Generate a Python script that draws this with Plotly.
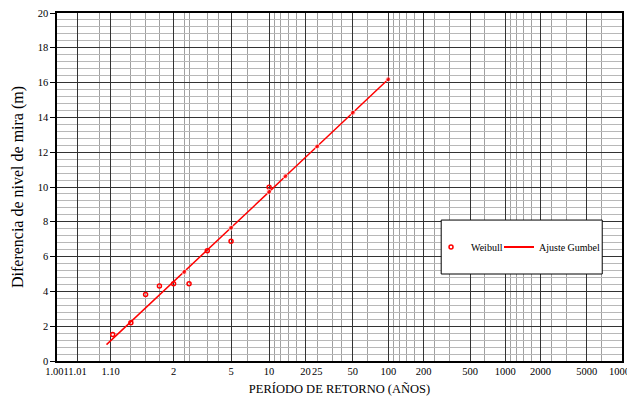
import numpy as np
import plotly.graph_objects as go

# ---- data ----
weibull_T = [1.111, 1.25, 1.4286, 1.6667, 2.0, 2.5, 3.333, 5.0, 10.0]
weibull_val = [1.53, 2.20, 3.82, 4.31, 4.44, 4.44, 6.34, 6.88, 9.98]

gumbel_T = [1.08, 2.33, 5.0, 10.0, 13.6, 25.0, 50.0, 100.0]
gumbel_val = [0.94, 5.12, 7.66, 9.72, 10.62, 12.33, 14.27, 16.19]

tick_T = [1.001, 1.01, 1.10, 2, 5, 10, 20, 25, 50, 100, 200, 500, 1000, 2000, 5000, 10000]
tick_text = ["1.001", "1.01", "1.10", "2", "5", "10", "20", "25", "50", "100",
             "200", "500", "1000", "2000", "5000", "10000"]

major_grid_T = [1.01, 1.1, 2, 5, 10, 20, 50, 100, 200, 500, 1000, 2000, 5000]
minor_grid_T = [1.0526, 1.25, 1.4286, 1.6667, 2.33, 2.5, 3.333, 4, 6.667,
                11.11, 12.5, 14.29, 16.67, 25, 33.33, 40, 66.67,
                111.1, 125, 142.9, 166.7, 250, 333.3, 666.7,
                1111, 1250, 1429, 1667, 2500, 3333, 6667]


def gumbel(T):
    T = np.asarray(T, dtype=float)
    return -np.log(-np.log(1.0 - 1.0 / T))


xr = [float(gumbel(1.001)), float(gumbel(10000))]
FONT = "Liberation Serif"
RED = "#ff0000"

fig = go.Figure()

fig.add_trace(go.Scatter(
    x=gumbel(weibull_T), y=weibull_val, mode="markers", name="Weibull",
    marker=dict(symbol="circle-open", size=4, color=RED, line=dict(width=1.5, color=RED)),
    xaxis="x", yaxis="y", legend="legend",
))
fig.add_trace(go.Scatter(
    x=gumbel(gumbel_T), y=gumbel_val, mode="lines+markers", name="Ajuste Gumbel",
    line=dict(color=RED, width=1.5),
    marker=dict(size=[0] + [5] * (len(gumbel_T) - 1), color=RED),
    showlegend=False, xaxis="x", yaxis="y",
))
fig.add_trace(go.Scatter(
    x=[None], y=[None], mode="lines", name="Ajuste Gumbel",
    line=dict(color=RED, width=2), xaxis="x2", yaxis="y", legend="legend2",
))

legend_common = dict(
    orientation="h", y=0.3276, xanchor="left", yanchor="middle",
    bgcolor="rgba(0,0,0,0)", borderwidth=0,
    font=dict(family=FONT, size=10, color="black"),
)

# the page body adds an 8px offset, so the figure is 8px smaller and margins shifted
fig.update_layout(
    width=627, height=393,
    margin=dict(l=49, r=13, t=5, b=40, autoexpand=False),
    paper_bgcolor="white", plot_bgcolor="white",
    font=dict(family=FONT, size=10, color="black"),
    xaxis=dict(
        range=xr, tickmode="array", tickvals=gumbel(tick_T), ticktext=tick_text,
        tickangle=0, showgrid=False, zeroline=False, ticks="", automargin=False,
        ticklabeloverflow="allow",
        showline=True, linecolor="black", linewidth=1.5, mirror=True,
        tickfont=dict(family=FONT, size=10.5),
        title=dict(text="PERÍODO DE RETORNO (AÑOS)", font=dict(family=FONT, size=12.5), standoff=8),
        minor=dict(tickmode="array", tickvals=gumbel(minor_grid_T), showgrid=True,
                   gridcolor="#a0a0a0", gridwidth=1, ticks=""),
    ),
    xaxis2=dict(
        range=xr, overlaying="x", anchor="y", side="bottom", automargin=False,
        tickmode="array", tickvals=gumbel(major_grid_T), showticklabels=False,
        showgrid=True, gridcolor="#333333", gridwidth=1, zeroline=False, ticks="",
        showline=False,
    ),
    yaxis=dict(
        range=[0, 20], dtick=2, showgrid=True, gridcolor="#333333", gridwidth=1,
        zeroline=False, ticks="outside", ticklen=5, tickcolor="black", automargin=False,
        ticklabeloverflow="allow",
        showline=True, linecolor="black", linewidth=1.5, mirror=True,
        tickfont=dict(family=FONT, size=10.5),
        title=dict(text="Diferencia de nivel de mira (m)", font=dict(family=FONT, size=16), standoff=10),
        minor=dict(dtick=0.4, showgrid=True, gridcolor="#b8b8b8", gridwidth=1, ticks=""),
    ),
    legend=dict(x=0.6620, **legend_common),
    legend2=dict(x=0.7823, **legend_common),
    shapes=[dict(
        type="rect", xref="paper", yref="paper",
        x0=0.680, x1=0.965, y0=0.25, y1=0.405,
        line=dict(color="black", width=1), fillcolor="white", layer="above",
    )],
)

fig.write_html("out.html")
